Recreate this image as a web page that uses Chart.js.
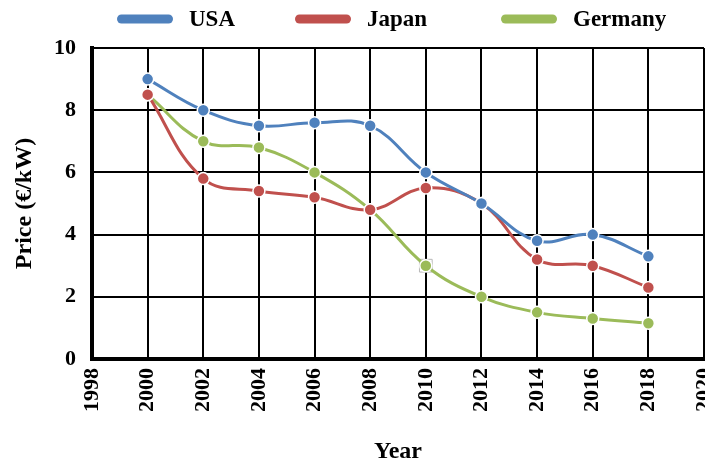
<!DOCTYPE html>
<html>
<head>
<meta charset="utf-8">
<script src="https://cdn.jsdelivr.net/npm/chart.js@4/dist/chart.umd.min.js"></script>
<style>
  html, body { margin: 0; padding: 0; background: #fff; overflow: hidden; }
  #wrap { width: 705px; height: 461px; overflow: hidden; }
</style>
</head>
<body>
<div id="wrap"><canvas id="c" width="714" height="461"></canvas></div>
<script>
// Module prices by country, €/kW
const years   = [2000, 2002, 2004, 2006, 2008, 2010, 2012, 2014, 2016, 2018];
const usa     = [9.0, 8.0, 7.5, 7.6, 7.5, 6.0, 5.0, 3.8, 4.0, 3.3];
const japan   = [8.5, 5.8, 5.4, 5.2, 4.8, 5.5, 5.0, 3.2, 3.0, 2.3];
const germany = [8.5, 7.0, 6.8, 6.0, 4.8, 3.0, 2.0, 1.5, 1.3, 1.15];
// highlighted point
const markedYear = [2010];
const markedValue = [3.0];

const xRange = { min: 1998, max: 2020, step: 2 };
const yRange = { min: 0, max: 10, step: 2 };

const FONT = "'Liberation Serif', 'Times New Roman', serif";

function pts(xs, ys) { return xs.map((x, i) => ({ x: x, y: ys[i] })); }

function series(label, values, color) {
  return {
    label: label,
    data: pts(years, values),
    borderColor: color,
    backgroundColor: color,
    borderWidth: 3,
    tension: 0.4,
    pointRadius: 6,
    pointHoverRadius: 6,
    pointBackgroundColor: color,
    pointBorderColor: '#ffffff',
    pointBorderWidth: 1.5
  };
}

// Legend row across the top: wide rounded swatch followed by a bold label
const legendRow = {
  id: 'legendRow',
  afterDraw(chart) {
    const ctx = chart.ctx;
    const slots = [117, 295, 501];   // left edge of each swatch
    const cy = 19;
    ctx.save();
    ctx.font = "bold 23px " + FONT;
    ctx.textBaseline = 'middle';
    chart.data.datasets.slice(1).forEach((ds, i) => {
      const x = slots[i];
      ctx.beginPath();
      ctx.roundRect(x, cy - 4.5, 56, 9, 4.5);
      ctx.fillStyle = ds.borderColor;
      ctx.fill();
      ctx.fillStyle = '#000';
      ctx.fillText(ds.label, x + 72, cy + 1);
    });
    ctx.restore();
  }
};

const PAD = { left: 0, right: 0, top: 48, bottom: 0 };

new Chart(document.getElementById('c'), {
  type: 'line',
  plugins: [legendRow],
  data: {
    datasets: [
      {
        label: 'marker',
        data: pts(markedYear, markedValue),
        showLine: false,
        pointStyle: 'rect',
        pointRadius: 9,
        pointHoverRadius: 9,
        pointBackgroundColor: '#ffffff',
        pointBorderColor: '#b8b8b8',
        pointBorderWidth: 1,
        order: 10
      },
      series('USA', usa, '#4F81BD'),
      series('Japan', japan, '#C0504D'),
      series('Germany', germany, '#9BBB59')
    ]
  },
  options: {
    responsive: false,
    animation: false,
    events: [],
    layout: { padding: PAD },
    plugins: {
      tooltip: { enabled: false },
      legend: { display: false }
    },
    scales: {
      x: {
        type: 'linear',
        min: xRange.min,
        max: xRange.max,
        afterFit: (s) => {
          s.height = 461 - 359 - PAD.bottom;
          s.paddingLeft = 0;
          s.paddingRight = 0;
        },
        ticks: {
          stepSize: xRange.step,
          minRotation: 90,
          maxRotation: 90,
          padding: 9,
          color: '#000',
          font: { family: FONT, size: 22, weight: 'bold' },
          callback: (v) => String(v)
        },
        grid: { color: '#000', lineWidth: 2, drawTicks: false },
        border: { color: '#000', width: 4 },
        title: {
          display: true,
          text: 'Year',
          color: '#000',
          font: { family: FONT, size: 24, weight: 'bold' },
          padding: { top: 0, bottom: -5 }
        }
      },
      y: {
        min: yRange.min,
        max: yRange.max,
        afterFit: (s) => {
          s.width = 92 - PAD.left;
          s.paddingTop = 0;
          s.paddingBottom = 0;
        },
        ticks: {
          stepSize: yRange.step,
          padding: 16,
          color: '#000',
          font: { family: FONT, size: 22, weight: 'bold' }
        },
        grid: { color: '#000', lineWidth: 2, drawTicks: false },
        border: { color: '#000', width: 4 },
        title: {
          display: true,
          text: 'Price (€/kW)',
          color: '#000',
          font: { family: FONT, size: 24, weight: 'bold' },
          padding: { top: 10, bottom: 0 }
        }
      }
    }
  }
});
</script>
</body>
</html>
